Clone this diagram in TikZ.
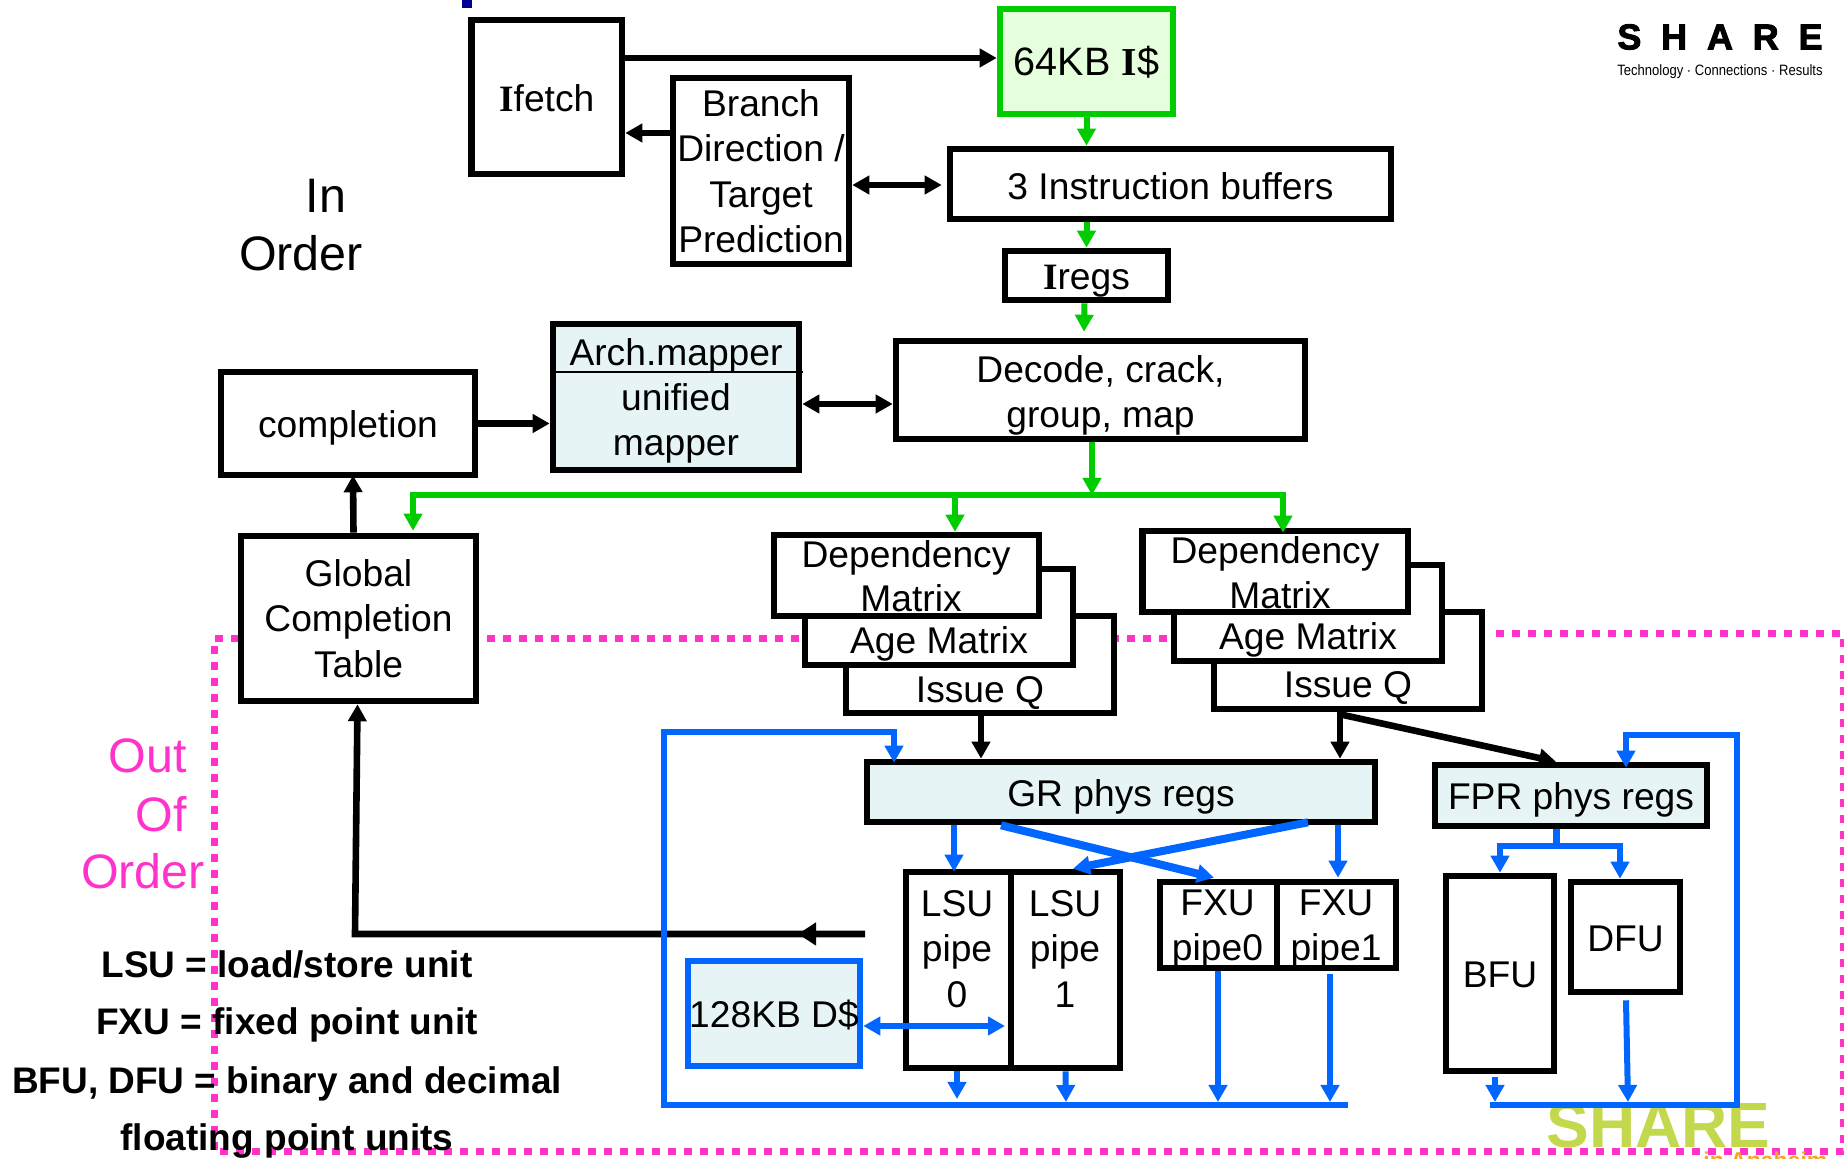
\documentclass[tikz,border=0pt]{standalone}
\usepackage{fontspec}
\setmainfont{Liberation Sans}
\newfontfamily\slabfont{Liberation Serif}
\newfontfamily\logofont[LetterSpace=55,FakeBold=2.5]{Liberation Sans}
\usetikzlibrary{arrows.meta}
\definecolor{pinkdot}{HTML}{FF33CC}
\definecolor{greenline}{HTML}{00CC00}
\definecolor{blueline}{HTML}{0066FF}
\definecolor{palegreen}{HTML}{E5FFDD}
\definecolor{paleblue}{HTML}{E6F4F5}
\definecolor{sharegreen}{HTML}{C4D84E}
\definecolor{shareorange}{HTML}{F5A623}
\newcommand{\slabI}{{\slabfont\bfseries I}}
\tikzset{
  unitbox/.style={draw=black, line width=3.3pt, fill=white, inner sep=0pt, align=center, font=\fontsize{18.6pt}{22.6pt}\selectfont,
    execute at begin node={\leavevmode\rule{0pt}{18.5pt}}, execute at end node={\rule[-4pt]{0pt}{0pt}}},
  regbox/.style={unitbox, fill=paleblue},
  drop/.style={execute at begin node={\rule{0pt}{#1}}},
  plain/.style={inner sep=0pt, align=center, font=\fontsize{18.6pt}{22.6pt}\selectfont},
  region/.style={inner sep=0pt, align=center, font=\fontsize{24.2pt}{28.5pt}\selectfont},
  legend/.style={inner sep=0pt, font=\fontsize{18.5pt}{20pt}\selectfont\bfseries},
  bkarrow/.style={draw=black, line width=3.3pt, -{Triangle[length=8.5pt,width=9pt]}},
  grarrow/.style={draw=greenline, line width=3pt, -{Triangle[length=8.5pt,width=9pt]}},
  blarrow/.style={draw=blueline, line width=3pt, -{Triangle[length=8.5pt,width=9pt]}},
  dotline/.style={draw=pinkdot, line width=3.5pt, dash pattern=on 4pt off 4pt}
}
\begin{document}
\begin{tikzpicture}[x=0.5pt, y=0.5pt, yscale=-1, xscale=1]
\useasboundingbox (0, 0) rectangle (1844, 1159);
% out of order region
\draw [dotline] (1496, 634) -- (1843, 634) -- (1843, 1152) -- (214, 1152) -- (214, 639) -- (1180, 639);
\fill [blue!60!black] (462, 0) rectangle (472, 8);
% logo
\node (logotop) [anchor=west, inner sep=0pt, font=\fontsize{18pt}{20pt}\selectfont\logofont\bfseries] at (1617, 37) {SHARE};
\node (logosub) [anchor=west, inner sep=0pt, xscale=0.87, font=\fontsize{7.5pt}{9pt}\selectfont] at (1617, 72) {Technology · Connections · Results};
\node (sharemark) [anchor=base west, inner sep=0pt, text=sharegreen, font=\fontsize{32pt}{34pt}\selectfont\bfseries] at (1546, 1148) {SHARE};
\node (anaheim) [anchor=north west, inner sep=0pt, text=shareorange, font=\fontsize{11.5pt}{13pt}\selectfont\bfseries] at (1703, 1151) {in Anaheim};
% in order part
\node (ifetch) [unitbox, minimum width=75.25pt, minimum height=77pt] at (546.75, 97) {\slabI fetch};
\node (icache) [unitbox, draw=greenline, fill=palegreen, minimum width=86.5pt, minimum height=52.5pt, font=\fontsize{19.8pt}{22.6pt}\selectfont] at (1086.5, 61.5) {64KB \slabI\$};
\node (branch) [unitbox, drop=85.3pt, minimum width=88pt, minimum height=93pt] at (761, 171) {Branch\\Direction /\\Target\\Prediction};
\node (instr) [unitbox, minimum width=220.5pt, minimum height=35pt] at (1170.5, 184) {\raisebox{-0.5pt}{3 Instruction buffers}};
\node (iregs) [unitbox, minimum width=81.5pt, minimum height=24.5pt] at (1086.5, 275.5) {\slabI regs};
\node (mapper) [regbox, drop=62.7pt, minimum width=123pt, minimum height=73pt] at (676, 397) {Arch.mapper\\unified\\mapper};
\draw [line width=1pt] (mapper.west |- 0, 372) -- (803, 372);
\node (decode) [unitbox, drop=41.3pt, minimum width=204.5pt, minimum height=49pt] at (1100.5, 390) {Decode, crack,\\group, map};
\node (completion) [unitbox, minimum width=127pt, minimum height=51.5pt] at (348, 423.5) {completion};
\node (gct) [unitbox, drop=62.7pt, minimum width=117.5pt, minimum height=82.5pt] at (358.5, 618.5) {Global\\Completion\\Table};
% issue stacks
\node (issuea) [unitbox, minimum width=134pt, minimum height=48.5pt] at (980, 664.5) {};
\node (agea) [unitbox, minimum width=134pt, minimum height=48pt] at (939, 617) {};
\node (depa) [unitbox, minimum width=132.5pt, minimum height=40.5pt] at (906.5, 575.5) {};
\node (issueb) [unitbox, minimum width=134pt, minimum height=48.5pt] at (1348, 660.5) {};
\node (ageb) [unitbox, minimum width=134pt, minimum height=48pt] at (1308, 613) {};
\node (depb) [unitbox, minimum width=132.75pt, minimum height=40.5pt] at (1275.25, 571.5) {};
\node (depaone) [plain] at (906, 558) {Dependency};
\node (depatwo) [plain] at (911, 598) {Matrix};
\node (ageatxt) [plain] at (939, 643.5) {Age Matrix};
\node (issueatxt) [plain] at (980, 693) {Issue Q};
\node (depbone) [plain] at (1275, 553.5) {Dependency};
\node (depbtwo) [plain] at (1280, 595) {Matrix};
\node (agebtxt) [plain] at (1308, 639.5) {Age Matrix};
\node (issuebtxt) [plain] at (1348, 688) {Issue Q};
% execution units
\node (grregs) [regbox, minimum width=254pt, minimum height=30pt] at (1121, 792) {GR phys regs};
\node (fprregs) [regbox, minimum width=136pt, minimum height=30.5pt] at (1571, 795.5) {FPR phys regs};
\node (lsua) [unitbox, minimum width=52.5pt, minimum height=98pt] at (958.5, 970) {};
\node (lsub) [unitbox, minimum width=54.5pt, minimum height=98pt] at (1065.5, 970) {};
\node (lsuatxt) [plain] at (957, 949) {LSU\\pipe\\0};
\node (lsubtxt) [plain] at (1065, 949) {LSU\\pipe\\1};
\node (fxua) [unitbox, minimum width=58.5pt, minimum height=43pt] at (1218.5, 925) {};
\node (fxub) [unitbox, minimum width=59.5pt, minimum height=43pt] at (1336.5, 925) {};
\node (fxuatxt) [plain] at (1217.5, 929) {FXU\\pipe0};
\node (fxubtxt) [plain] at (1336, 929) {FXU\\pipe1};
\node (bfu) [unitbox, minimum width=54pt, minimum height=97.5pt] at (1500, 973.5) {BFU};
\node (dfu) [unitbox, minimum width=54.5pt, minimum height=55pt] at (1625.5, 937) {DFU};
\node (dcache) [regbox, draw=blueline, minimum width=86pt, minimum height=52.5pt] at (774, 1013.5) {\makebox[0pt]{128KB D\$}};
% green
\draw [grarrow] (icache.south) -- (instr.north -| icache.south);
\draw [grarrow] (instr.south -| iregs.north) -- (iregs.north);
\draw [grarrow] ([shift={(-2,0)}]iregs.south) -- ([shift={(-16.5,-6)}]decode.north);
\draw [grarrow] ([shift={(-8.5,0)}]decode.south) -- (1092, 495);
\draw [grarrow, {Triangle[length=8.5pt,width=9pt]}-{Triangle[length=8.5pt,width=9pt]}] ([shift={(54.5,-2)}]gct.north) -- (413, 495) -- (1283, 495) -- ([shift={(7.75,5)}]depb.north);
\draw [grarrow] (955, 495) -- ([shift={(48.5,0)}]depa.north);
% black
\draw [bkarrow] ([shift={(0,-39)}]ifetch.east) -- ([shift={(0,-3.5)}]icache.west);
\draw [bkarrow] ([shift={(0,-38)}]branch.west) -- ([shift={(0,36)}]ifetch.east);
\draw [bkarrow, <->, >={Triangle[length=8.5pt,width=9pt]}] ([shift={(0,14)}]branch.east) -- ([shift={(-5,1)}]instr.west);
\draw [bkarrow] (completion.east) -- (mapper.west |- completion.east);
\draw [bkarrow, <->, >={Triangle[length=8.5pt,width=9pt]}] ([shift={(0,7)}]mapper.east) -- ([shift={(0,14)}]decode.west);
\draw [bkarrow] ([shift={(-5,0)}]gct.north) -- ([shift={(5,-3)}]completion.south);
\coordinate (loadout) at (865, 934);
\draw [bkarrow] (loadout) -- (355, 934) -- ([shift={(-1,0)}]gct.south);
\draw [bkarrow, -{Triangle[length=9pt,width=11pt]}] (loadout) -- (798, 934);
\draw [bkarrow] ([shift={(1,0)}]issuea.south) -- (grregs.north -| 981, 0);
\draw [bkarrow] ([shift={(-8,0)}]issueb.south) -- (grregs.north -| 1340, 0);
\draw [bkarrow] ([shift={(-8,2)}]issueb.south) -- ([shift={(-15,0)}]fprregs.north);
% blue
\draw [blarrow] (grregs.south -| 954, 0) -- ([shift={(-4.5,3)}]lsua.north);
\draw [blarrow, line width=4pt] ([shift={(-120,0)}]grregs.south) -- ([shift={(-4.5,-1)}]fxua.north);
\draw [blarrow, line width=4pt] ([shift={(187,-3)}]grregs.south) -- ([shift={(7.5,0)}]lsub.north);
\draw [blarrow] (grregs.south -| 1338, 0) -- ([shift={(1.5,-1)}]fxub.north);
\draw [blarrow] (lsua.south -| 957, 0) -- (957, 1099);
\draw [blarrow] (lsub.south) -- (1066, 1102);
\draw [blarrow] (fxua.south -| 1218, 0) -- (1218, 1102);
\draw [blarrow] (1330, 974) -- (1330, 1102);
\draw [blarrow] (1495, 1077) -- (1495, 1102);
\draw [blarrow] ([shift={(0.5,5)}]dfu.south) -- (1628, 1102);
\draw [blarrow, line width=3.4pt] (1348, 1105) -- (664, 1105) -- (664, 732) -- (894, 732) -- ([shift={(-227,4)}]grregs.north);
\draw [blarrow, line width=3.4pt] (1490, 1105) -- (1737, 1105) -- (1737, 735) -- (1626, 735) -- ([shift={(55,6)}]fprregs.north);
\draw [blarrow, line width=3.5pt, -] ([shift={(-15,0)}]fprregs.south) -- (1556, 846);
\draw [blarrow, {Triangle[length=8.5pt,width=9pt]}-{Triangle[length=8.5pt,width=9pt]}] (bfu.north) -- (1500, 846) -- (1620, 846) -- ([shift={(-5.5,0)}]dfu.north);
\draw [blarrow, {Triangle[length=8.5pt,width=9pt]}-{Triangle[length=8.5pt,width=9pt]}] ([shift={(0,12.5)}]dcache.east) -- (1005, 1026);
% labels
\node (inlabel) [region] at (326, 196) {In};
\node (orderlabel) [region] at (301, 253) {Order};
\node (outlabel) [region, text=pinkdot] at (148, 756) {Out};
\node (oflabel) [region, text=pinkdot] at (161, 814) {Of};
\node (outorder) [region, text=pinkdot] at (143, 871) {Order};
\node (legenda) [legend] at (287, 964) {LSU = load/store unit};
\node (legendb) [legend] at (287, 1025) {FXU = fixed point unit};
\node (legendc) [legend] at (287, 1084) {BFU, DFU = binary and decimal};
\node (legendd) [legend] at (287, 1141) {floating point units};
\end{tikzpicture}
\end{document}
